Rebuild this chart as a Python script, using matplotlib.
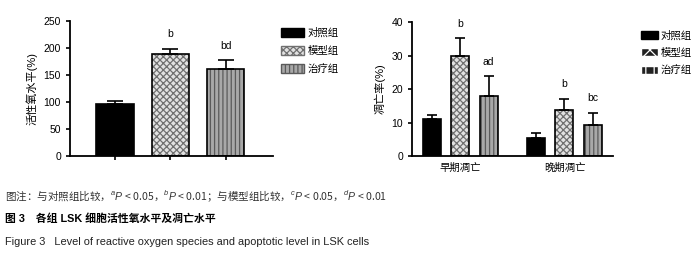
import matplotlib
matplotlib.use("Agg")
import matplotlib.pyplot as plt
from matplotlib.patches import Patch
import numpy as np

plt.rcParams['font.family'] = ['Liberation Sans', 'Noto Sans CJK SC', 'DejaVu Sans']
plt.rcParams['mathtext.fontset'] = 'custom'
plt.rcParams['mathtext.it'] = 'Liberation Sans:italic'
plt.rcParams['mathtext.rm'] = 'Liberation Sans'
plt.rcParams['hatch.linewidth'] = 0.9

groups = ['对照组', '模型组', '治疗组']
ros_mean = [97, 189, 162]
ros_err = [5, 10, 15]
ros_sig = ['', 'b', 'bd']

apo_cats = ['早期凋亡', '晚期凋亡']
apo_mean = {'对照组': [11, 5.3], '模型组': [30, 13.8], '治疗组': [18, 9.2]}
apo_err = {'对照组': [1.2, 1.7], '模型组': [5.3, 3.2], '治疗组': [6, 3.6]}
apo_sig = {'对照组': ['', ''], '模型组': ['b', 'b'], '治疗组': ['ad', 'bc']}

caption1 = '图注：与对照组比较，$^{a}\\mathit{P}$ < 0.05，$^{b}\\mathit{P}$ < 0.01；与模型组比较，$^{c}\\mathit{P}$ < 0.05，$^{d}\\mathit{P}$ < 0.01'
caption2 = '图 3　各组 LSK 细胞活性氧水平及凋亡水平'
caption3 = 'Figure 3   Level of reactive oxygen species and apoptotic level in LSK cells'

styles = {
    '对照组': dict(face='black', hatch=None, hc='black'),
    '模型组': dict(face='#e2e2e2', hatch='xxxxx', hc='#707070'),
    '治疗组': dict(face='#a8a8a8', hatch='||||', hc='#5a5a5a'),
}

fig = plt.figure(figsize=(7, 2.57), dpi=100)

def draw_bar(ax, x, h, w, g):
    s = styles[g]
    ax.bar(x, h, w, color=s['face'], hatch=s['hatch'], edgecolor=s['hc'], linewidth=0, zorder=2)
    ax.bar(x, h, w, fill=False, edgecolor='black', linewidth=1.2, zorder=3)

def style_ax(ax):
    for sp in ['top', 'right']:
        ax.spines[sp].set_visible(False)
    for sp in ['left', 'bottom']:
        ax.spines[sp].set_linewidth(1.3)
    ax.tick_params(axis='both', labelsize=7.5, width=1.2, length=3, direction='out')

def legend_handles(dark=False):
    hs = []
    for g in groups:
        s = styles[g]
        if dark and g != '对照组':
            hs.append(Patch(facecolor='#222222', edgecolor='white', hatch=s['hatch'][:2], label=g))
        else:
            hs.append(Patch(facecolor=s['face'], edgecolor=s['hc'], hatch=s['hatch'], label=g))
    return hs

# Left panel
ax1 = fig.add_axes([0.100, 0.393, 0.290, 0.525])
w1 = 0.67
for i, g in enumerate(groups):
    draw_bar(ax1, i, ros_mean[i], w1, g)
    ax1.errorbar(i, ros_mean[i], yerr=[[0], [ros_err[i]]], fmt='none', ecolor='black',
                 elinewidth=1.2, capsize=5.5, capthick=1.2, zorder=4)
    if ros_sig[i]:
        ax1.text(i, ros_mean[i] + ros_err[i] + 17, ros_sig[i], ha='center', va='bottom', fontsize=7.5)
ax1.set_xlim(-0.81, 2.85)
ax1.set_ylim(0, 250)
ax1.set_yticks([0, 50, 100, 150, 200, 250])
ax1.set_xticks([0, 1, 2])
ax1.set_xticklabels([])
ax1.set_ylabel('活性氧水平(%)', fontsize=8, labelpad=4)
style_ax(ax1)
leg1 = ax1.legend(handles=legend_handles(), loc='upper left', bbox_to_anchor=(1.02, 0.98),
                  frameon=False, fontsize=7.5, handlelength=2.2, handleheight=0.9,
                  labelspacing=0.75, handletextpad=0.3, borderaxespad=0)

# Right panel
ax2 = fig.add_axes([0.589, 0.393, 0.287, 0.521])
w2 = 0.63
offsets = [0, 3.65]
for ci, off in enumerate(offsets):
    for i, g in enumerate(groups):
        x = off + i * 0.99
        m = apo_mean[g][ci]
        e = apo_err[g][ci]
        draw_bar(ax2, x, m, w2, g)
        ax2.errorbar(x, m, yerr=[[0], [e]], fmt='none', ecolor='black',
                     elinewidth=1.2, capsize=3.8, capthick=1.2, zorder=4)
        sig = apo_sig[g][ci]
        if sig:
            ax2.text(x, m + e + 2.6 if ci == 0 else m + e + 3.0, sig, ha='center', va='bottom', fontsize=7.5)
ax2.set_xlim(-0.70, 6.35)
ax2.set_ylim(0, 40)
ax2.set_yticks([0, 10, 20, 30, 40])
ax2.set_xticks([off + 0.99 for off in offsets])
ax2.set_xticklabels(apo_cats, fontsize=7.5)
ax2.set_ylabel('凋亡率(%)', fontsize=8, labelpad=4)
style_ax(ax2)
ax2.tick_params(axis='x', length=0, pad=5)
leg2 = ax2.legend(handles=legend_handles(dark=True), loc='upper left', bbox_to_anchor=(1.12, 0.97),
                  frameon=False, fontsize=7.5, handlelength=1.6, handleheight=0.8,
                  labelspacing=0.7, handletextpad=0.2, borderaxespad=0)

# Captions
fig.text(0.007, 1 - 196 / 257, caption1, fontsize=7.6, color='#333333', va='center', ha='left',
         family='Noto Sans CJK SC')
fig.text(0.007, 1 - 219 / 257, caption2, fontsize=7.8, fontweight='bold', color='black', va='center', ha='left')
fig.text(0.007, 1 - 242 / 257, caption3, fontsize=7.9, color='#222222', va='center', ha='left')

fig.savefig('out.png', dpi=100)
